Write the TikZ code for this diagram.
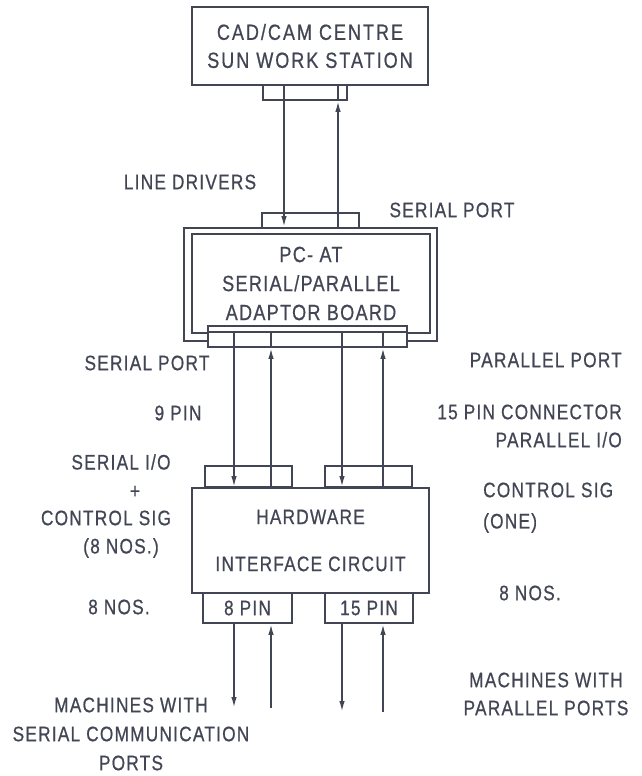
\documentclass[tikz,border=0pt]{standalone}
\usepackage{fontspec}
\setmainfont{Liberation Sans}[FakeStretch=0.82,LetterSpace=6,FakeBold=0.7]
\newfontfamily\widefont{Liberation Sans}[FakeStretch=0.82,LetterSpace=9,FakeBold=0.7]
\usetikzlibrary{arrows.meta}
\definecolor{ink}{RGB}{66,70,84}
\begin{document}
\begin{tikzpicture}[x=1pt,y=-1pt,
  every node/.style={text=ink},
  box/.style={draw=ink,line width=1.8pt,inner sep=0pt,align=center},
  toptxt/.style={font=\widefont\fontsize{22}{28}\selectfont},
  bigtxt/.style={font=\fontsize{22}{29}\selectfont},
  midtxt/.style={font=\fontsize{21}{28}\selectfont},
  lbl/.style={font=\fontsize{21}{28}\selectfont, inner sep=0pt, align=center},
  wire/.style={draw=ink,line width=1.8pt},
  arr/.style={wire,-{Latex[length=11pt,width=5.5pt]}}]
\useasboundingbox (0,0) rectangle (641,776);

% --- boxes ---
\node[box,toptxt,minimum width=236pt,minimum height=78pt] (cad) at (310,46) {CAD/CAM CENTRE\\SUN WORK STATION};
\node[box,minimum width=84pt,minimum height=15pt] (cadconn) at (305,92.5) {};
\node[box,minimum width=97pt,minimum height=15pt] (pctop) at (310.5,220.5) {};
\node[box,minimum width=253pt,minimum height=113pt] (pcout) at (310.5,284.5) {};
\node[box,bigtxt,minimum width=238pt,minimum height=99pt] (pc) at (311,283.5) {PC- AT\\SERIAL/PARALLEL\\ADAPTOR BOARD};
\node[box,fill=white,minimum width=199pt,minimum height=21pt] (pcbot) at (307.5,336.5) {};
\coordinate (pcline) at (0,332);
\draw[wire] (pcbot.west |- pcline) -- (pcbot.east |- pcline);

\node[box,minimum width=87pt,minimum height=21pt] (hwtl) at (248.5,476.5) {};
\node[box,minimum width=87pt,minimum height=21pt] (hwtr) at (368.5,476.5) {};
\node[box,midtxt,minimum width=237pt,minimum height=105pt] (hw) at (310.5,540.5) {HARDWARE\\[19pt]INTERFACE CIRCUIT};
\node[box,midtxt,minimum width=89pt,minimum height=30pt] (hwbl) at (247.5,608) {8 PIN};
\node[box,midtxt,minimum width=88pt,minimum height=30pt] (hwbr) at (369,608) {15 PIN};

% --- line positions ---
\coordinate (xa) at (284,0);
\coordinate (xb) at (338,0);
\coordinate (x1) at (234,0);
\coordinate (x2) at (271,0);
\coordinate (x3) at (342,0);
\coordinate (x4) at (383,0);
\coordinate (e1) at (234,708);
\coordinate (e2) at (271,708);
\coordinate (e3) at (342,712);
\coordinate (e4) at (383,712);

% --- workstation <-> PC ---
\draw[arr] (cad.south -| xa) -- (pcout.north -| xa);
\draw[arr] (pcout.north -| xb) -- (cadconn.south -| xb);
\draw[wire] (cadconn.south -| xb) -- (cad.south -| xb);

% --- PC <-> hardware ---
\draw[arr] (pcline -| x1) -- (hw.north -| x1);
\draw[arr] (hw.north -| x2) -- (pcbot.south -| x2);
\draw[wire] (pcbot.south -| x2) -- (pcline -| x2);
\draw[arr] (pcline -| x3) -- (hw.north -| x3);
\draw[arr] (hw.north -| x4) -- (pcbot.south -| x4);
\draw[wire] (pcbot.south -| x4) -- (pcline -| x4);

% --- hardware <-> machines ---
\draw[arr] (hwbl.south -| x1) -- (e1);
\draw[arr] (e2) -- (hwbl.south -| x2);
\draw[arr] (hwbr.south -| x3) -- (e3);
\draw[arr] (e4) -- (hwbr.south -| x4);

% --- labels ---
\node[lbl] (ld) at (190,182) {LINE DRIVERS};
\node[lbl] (spt) at (452,210) {SERIAL PORT};
\node[lbl] (spl) at (147,363) {SERIAL PORT};
\node[lbl] (pin9) at (178,413) {9 PIN};
\node[lbl] (sio) at (121,462) {SERIAL I/O};
\node[lbl] (plus) at (135,492) {+};
\node[lbl] (csl) at (106,518) {CONTROL SIG};
\node[lbl] (nos8a) at (121,548) {(8 NOS.)};
\node[lbl] (nos8l) at (119,607) {8 NOS.};

\node[lbl,anchor=east] (pp) at (622,360) {PARALLEL PORT};
\node[lbl,anchor=east,align=right] (pin15) at (622,426) {15 PIN CONNECTOR\\PARALLEL I/O};
\node[lbl,anchor=west] (csr) at (483,490) {CONTROL SIG};
\node[lbl,anchor=west] (one) at (483,523) {(ONE)};
\node[lbl] (nos8r) at (530,593) {8 NOS.};

\node[lbl] (msl) at (131,734) {MACHINES WITH\\[1pt]SERIAL COMMUNICATION\\[1pt]PORTS};
\node[lbl] (mpr) at (546,694) {MACHINES WITH\\PARALLEL PORTS};
\end{tikzpicture}
\end{document}
